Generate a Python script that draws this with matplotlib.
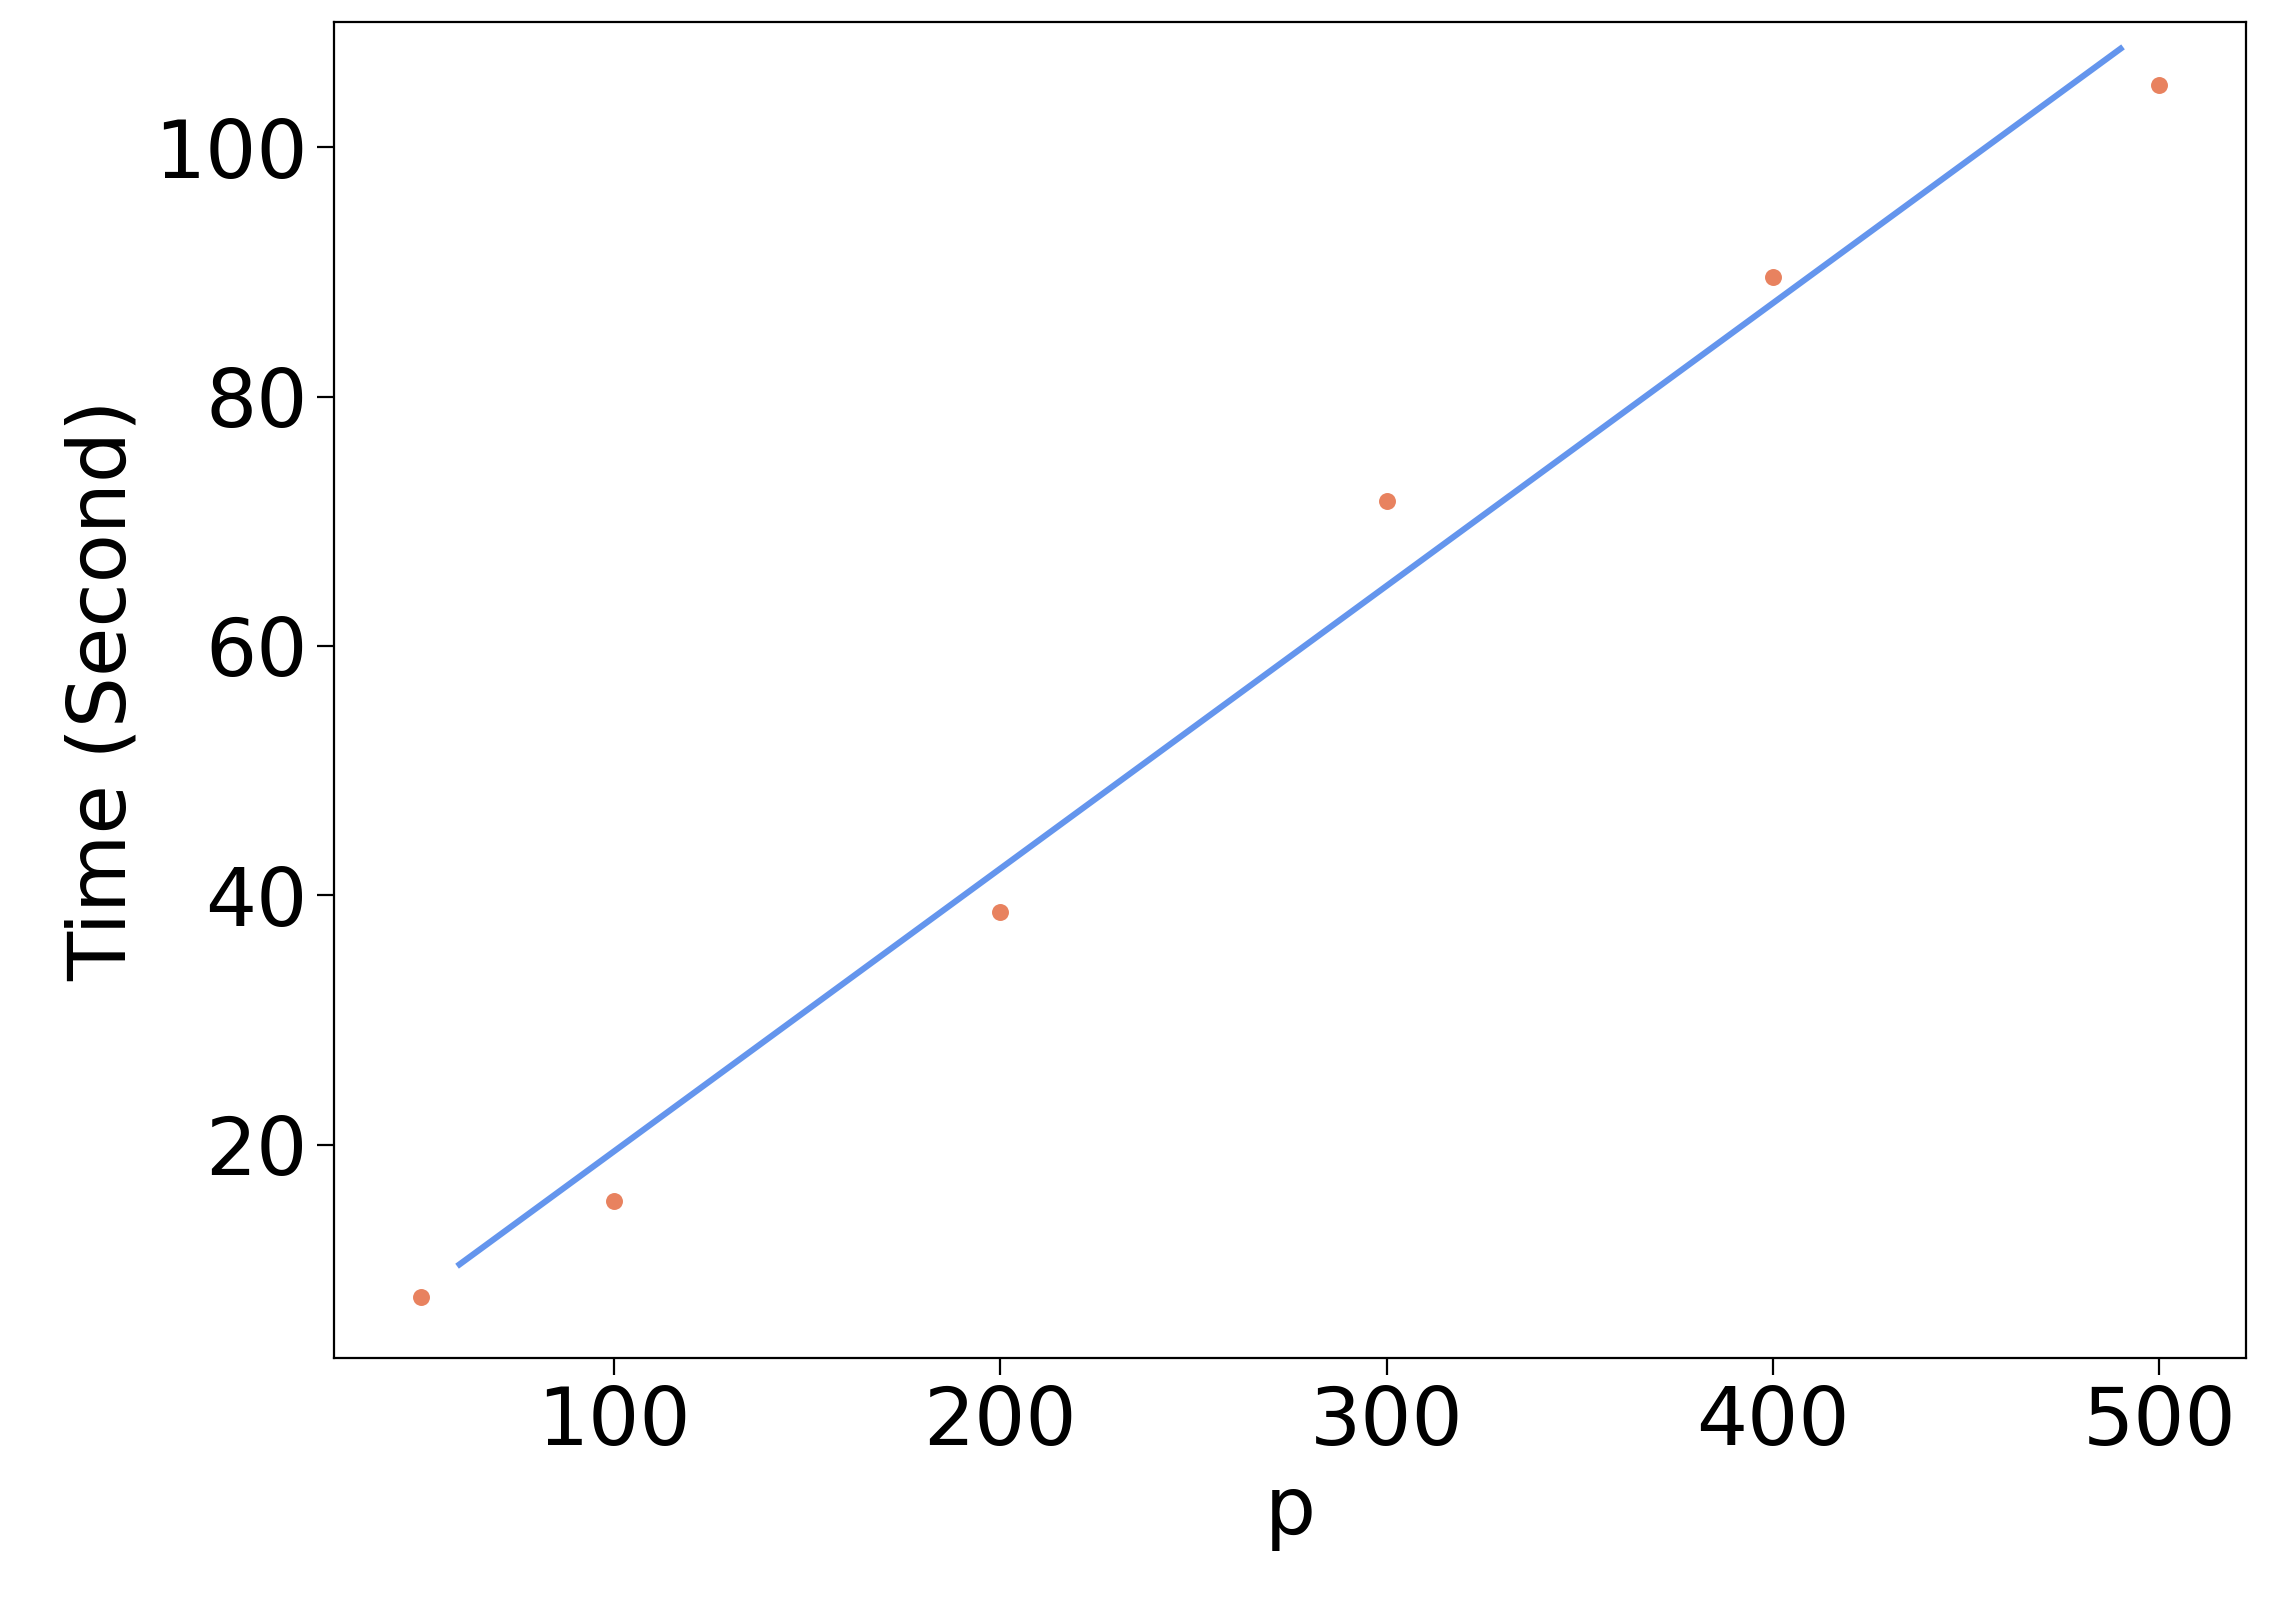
import matplotlib
matplotlib.use("Agg")
import matplotlib.pyplot as plt

p_vals = [50, 100, 200, 300, 400, 500]
times = [7.8, 15.5, 38.7, 71.6, 89.6, 105.0]
fit_x = [60, 490]
fit_y = [10.4, 107.9]

fig = plt.figure(figsize=(11.36, 8.035), dpi=200)
ax = fig.add_axes([0.147, 0.155, 0.8416, 0.831])
ax.plot(fit_x, fit_y, color="#6495ED", lw=2.2)
ax.scatter(p_vals, times, color="#E8825F", s=45, edgecolors="white", linewidths=0.6, zorder=3)
ax.set_ylim(2.9, 110)
ax.set_yticks([20, 40, 60, 80, 100])
ax.set_xticks([100, 200, 300, 400, 500])
ax.tick_params(labelsize=29, length=6)
ax.set_xlabel("p", fontsize=29)
ax.set_ylabel("Time (Second)", fontsize=29)
fig.savefig("out.png", dpi=200)
